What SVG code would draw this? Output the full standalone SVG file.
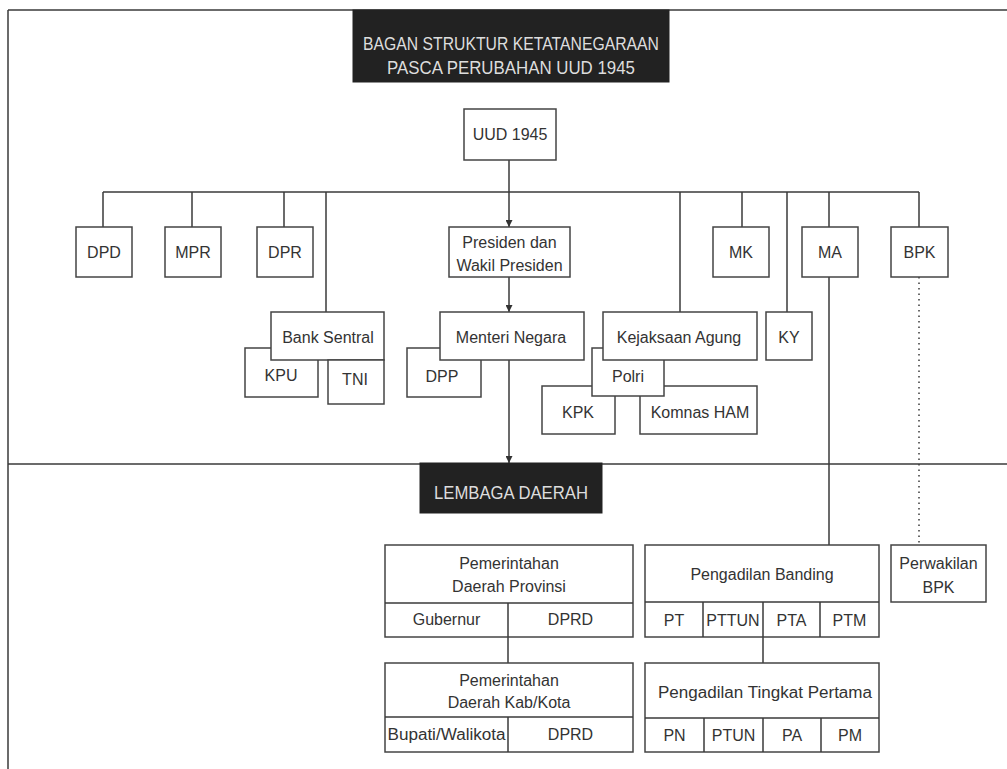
<svg xmlns="http://www.w3.org/2000/svg" width="1007" height="769" viewBox="0 0 1007 769">
<defs>
<marker id="arr" viewBox="0 0 10 10" refX="10" refY="5" markerWidth="7" markerHeight="7" markerUnits="userSpaceOnUse" orient="auto">
<path d="M0,0 L10,5 L0,10 z" fill="#333"/>
</marker>
<style>
rect.b{fill:#fff;stroke:#444;stroke-width:1.5}
rect.d{fill:#222;stroke:#222;stroke-width:1}
line,path.c{stroke:#3a3a3a;stroke-width:1.5;fill:none}
text{font-family:"Liberation Sans",Arial,sans-serif;font-size:16px;fill:#333;text-anchor:middle}
text.w{fill:#ddd;font-size:19px}
</style>
</defs>
<rect width="1007" height="769" fill="#fff"/>
<g id="frame">
<line x1="8" y1="10" x2="1007" y2="10"/>
<line x1="8" y1="10" x2="8" y2="769"/>
<line x1="8" y1="464" x2="1007" y2="464"/>
</g>
<g id="connectors">
<line x1="509" y1="160" x2="509" y2="227" marker-end="url(#arr)"/>
<line x1="103" y1="192" x2="919" y2="192"/>
<line x1="103" y1="192" x2="103" y2="227"/>
<line x1="192" y1="192" x2="192" y2="227"/>
<line x1="284" y1="192" x2="284" y2="227"/>
<line x1="326" y1="192" x2="326" y2="312"/>
<line x1="680" y1="192" x2="680" y2="312"/>
<line x1="742" y1="192" x2="742" y2="227"/>
<line x1="787" y1="192" x2="787" y2="312"/>
<line x1="829" y1="192" x2="829" y2="227"/>
<line x1="919" y1="192" x2="919" y2="227"/>
<line x1="509" y1="277" x2="509" y2="312" marker-end="url(#arr)"/>
<line x1="509" y1="360" x2="509" y2="463" marker-end="url(#arr)"/>
<line x1="829" y1="277" x2="829" y2="545"/>
<line x1="919" y1="277" x2="919" y2="545" stroke-dasharray="1.5,4" stroke-width="1.2"/>
<line x1="508" y1="637" x2="508" y2="663"/>
<line x1="763" y1="637" x2="763" y2="663"/>
</g>
<g id="title">
<rect class="d" x="353" y="10" width="316" height="72"/>
<text class="w" x="511" y="50" textLength="296" lengthAdjust="spacingAndGlyphs">BAGAN STRUKTUR KETATANEGARAAN</text>
<text class="w" x="511" y="74" textLength="248" lengthAdjust="spacingAndGlyphs">PASCA PERUBAHAN UUD 1945</text>
</g>
<g id="uud"><rect class="b" x="464" y="109" width="92" height="51"/><text x="510" y="140">UUD 1945</text></g>
<g id="dpd"><rect class="b" x="76" y="227" width="56" height="50"/><text x="104" y="258">DPD</text></g>
<g id="mpr"><rect class="b" x="165" y="227" width="56" height="50"/><text x="193" y="258">MPR</text></g>
<g id="dpr"><rect class="b" x="257" y="227" width="56" height="50"/><text x="285" y="258">DPR</text></g>
<g id="presiden"><rect class="b" x="449" y="227" width="121" height="50"/><text x="509.5" y="248">Presiden dan</text><text x="509.5" y="271">Wakil Presiden</text></g>
<g id="mk"><rect class="b" x="713" y="227" width="56" height="50"/><text x="741" y="258">MK</text></g>
<g id="ma"><rect class="b" x="802" y="227" width="56" height="50"/><text x="830" y="258">MA</text></g>
<g id="bpk"><rect class="b" x="891" y="227" width="57" height="50"/><text x="919.5" y="258">BPK</text></g>
<g id="kpu"><rect class="b" x="245" y="348" width="73" height="49"/><text x="281" y="381">KPU</text></g>
<g id="bank-sentral"><rect class="b" x="271" y="312" width="113" height="48"/><text x="328" y="343">Bank Sentral</text></g>
<g id="tni"><rect class="b" x="328" y="360" width="56" height="44"/><text x="355" y="385">TNI</text></g>
<g id="dpp"><rect class="b" x="407" y="348" width="74" height="49"/><text x="442" y="382">DPP</text></g>
<g id="menteri"><rect class="b" x="440" y="312" width="144" height="48"/><text x="511" y="343">Menteri Negara</text></g>
<g id="kpk"><rect class="b" x="542" y="386" width="73" height="48"/><text x="578" y="418">KPK</text></g>
<g id="komnas"><rect class="b" x="640" y="386" width="117" height="48"/><text x="700" y="418">Komnas HAM</text></g>
<g id="polri"><rect class="b" x="592" y="348" width="72" height="48"/><text x="628" y="382">Polri</text></g>
<g id="kejaksaan"><rect class="b" x="603" y="312" width="154" height="48"/><text x="679" y="343">Kejaksaan Agung</text></g>
<g id="ky"><rect class="b" x="766" y="312" width="46" height="48"/><text x="789" y="343">KY</text></g>
<g id="lembaga-daerah">
<rect class="d" x="420" y="463" width="182" height="50"/>
<text class="w" x="511" y="499" textLength="154" lengthAdjust="spacingAndGlyphs">LEMBAGA DAERAH</text>
</g>
<g id="provinsi">
<rect class="b" x="385" y="545" width="248" height="92"/>
<line x1="385" y1="603" x2="633" y2="603"/>
<line x1="508" y1="603" x2="508" y2="637"/>
<text x="509" y="569">Pemerintahan</text>
<text x="509" y="592">Daerah Provinsi</text>
<text x="446.5" y="625">Gubernur</text>
<text x="570.5" y="625">DPRD</text>
</g>
<g id="kabkota">
<rect class="b" x="385" y="663" width="248" height="89"/>
<line x1="385" y1="717" x2="633" y2="717"/>
<line x1="508" y1="717" x2="508" y2="752"/>
<text x="509" y="686">Pemerintahan</text>
<text x="509" y="708">Daerah Kab/Kota</text>
<text x="446.5" y="740" textLength="118" lengthAdjust="spacingAndGlyphs">Bupati/Walikota</text>
<text x="570.5" y="740">DPRD</text>
</g>
<g id="banding">
<rect class="b" x="645" y="545" width="234" height="92"/>
<line x1="645" y1="602" x2="879" y2="602"/>
<line x1="703" y1="602" x2="703" y2="637"/>
<line x1="763" y1="602" x2="763" y2="637"/>
<line x1="820" y1="602" x2="820" y2="637"/>
<text x="762" y="580">Pengadilan Banding</text>
<text x="674" y="626">PT</text>
<text x="733" y="626">PTTUN</text>
<text x="791.5" y="626">PTA</text>
<text x="849.5" y="626">PTM</text>
</g>
<g id="tingkat-pertama">
<rect class="b" x="645" y="663" width="234" height="89"/>
<line x1="645" y1="718" x2="879" y2="718"/>
<line x1="704" y1="718" x2="704" y2="752"/>
<line x1="763" y1="718" x2="763" y2="752"/>
<line x1="821" y1="718" x2="821" y2="752"/>
<text x="765" y="698" textLength="214" lengthAdjust="spacingAndGlyphs">Pengadilan Tingkat Pertama</text>
<text x="674.5" y="741">PN</text>
<text x="733.5" y="741">PTUN</text>
<text x="792" y="741">PA</text>
<text x="850" y="741">PM</text>
</g>
<g id="perwakilan-bpk">
<rect class="b" x="891" y="545" width="95" height="57"/>
<text x="938.5" y="569">Perwakilan</text>
<text x="938.5" y="593">BPK</text>
</g>
</svg>
